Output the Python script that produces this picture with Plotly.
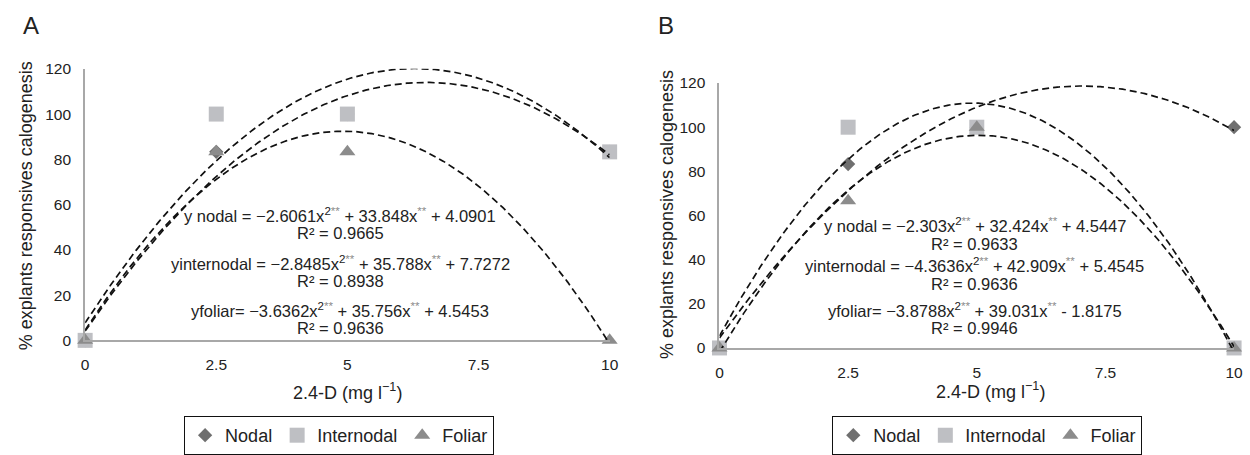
import numpy as np
import plotly.graph_objects as go

W, H = 1250, 455

# ---------------- data ----------------
x_vals = [0, 2.5, 5, 10]
a_nodal = [0, 83.3, 100, 83.3]
a_internodal = [0, 100, 100, 83.3]
a_foliar = [0, 83.3, 83.3, 0]
b_nodal = [0, 83.3, 100, 100]
b_internodal = [0, 100, 100, 0]
b_foliar = [0, 66.7, 100, 0]

# quadratic trend-line coefficients (a, b, c) as printed on the chart
a_nodal_fit = [-2.6061, 33.848, 4.0901]
a_internodal_fit = [-2.8485, 35.788, 7.7272]
a_foliar_fit = [-3.6362, 35.756, 4.5453]
b_nodal_fit = [-2.303, 32.424, 4.5447]
b_internodal_fit = [-4.3636, 42.909, 5.4545]
b_foliar_fit = [-3.8788, 39.031, -1.8175]

a_r2 = ["0.9665", "0.8938", "0.9636"]
b_r2 = ["0.9633", "0.9636", "0.9946"]

x_ticks = [0, 2.5, 5, 7.5, 10]
x_tick_text = ["0", "2.5", "5", "7.5", "10"]
y_ticks = [0, 20, 40, 60, 80, 100, 120]

series_names = ["Nodal", "Internodal", "Foliar"]
# --------------------------------------

FONT = "Arial, Liberation Sans, Helvetica, sans-serif"
colors = ["#6f6f6f", "#bebfc3", "#8c8c8c"]
symbols = ["diamond", "square", "triangle-up"]
sizes = [11, 15, 14]


def px_x(p):
    return p / W


def px_y(p):
    return (H - p) / H


fig = go.Figure()

panels = [
    ("x", "y", "legend", [a_nodal, a_internodal, a_foliar],
     [a_nodal_fit, a_internodal_fit, a_foliar_fit]),
    ("x2", "y2", "legend2", [b_nodal, b_internodal, b_foliar],
     [b_nodal_fit, b_internodal_fit, b_foliar_fit]),
]

xs = np.linspace(0, 10, 301)
for xa, ya, lg, series, fits in panels:
    for i, (name, vals) in enumerate(zip(series_names, series)):
        fig.add_trace(go.Scatter(
            x=x_vals, y=vals, mode="markers", name=name,
            xaxis=xa, yaxis=ya, legend=lg, cliponaxis=False,
            marker=dict(symbol=symbols[i], size=sizes[i], color=colors[i],
                        line=dict(width=0)),
        ))
    for coef in fits:
        ys = coef[0] * xs ** 2 + coef[1] * xs + coef[2]
        fig.add_trace(go.Scatter(
            x=xs, y=ys, mode="lines", showlegend=False, hoverinfo="skip",
            xaxis=xa, yaxis=ya,
            line=dict(color="#111111", width=1.7, dash="7px,4px"),
        ))

axis_common = dict(
    showgrid=False, zeroline=False, showline=True, linecolor="#a8a8a8",
    linewidth=2, ticks="outside", ticklen=9, tickcolor="rgba(0,0,0,0)",
    tickfont=dict(family=FONT, size=15.5, color="#222222"), fixedrange=True,
)

legend_common = dict(
    orientation="h", xanchor="left", yanchor="top",
    bordercolor="#111111", borderwidth=1,
    font=dict(family=FONT, size=18, color="#222222"),
    itemwidth=30, tracegroupgap=0,
)

fig.update_layout(
    width=W, height=H,
    margin=dict(l=0, r=0, t=0, b=0),
    paper_bgcolor="white", plot_bgcolor="white",
    font=dict(family=FONT, color="#222222"),
    xaxis=dict(domain=[px_x(82), px_x(612)], range=[0, 10], anchor="y",
               tickvals=x_ticks, ticktext=x_tick_text, **axis_common),
    yaxis=dict(domain=[px_y(349), px_y(63)], range=[0, 120], anchor="x",
               tickvals=y_ticks, **axis_common),
    xaxis2=dict(domain=[px_x(723), px_x(1243)], range=[0, 10], anchor="y2",
                tickvals=x_ticks, ticktext=x_tick_text, **axis_common),
    yaxis2=dict(domain=[px_y(357), px_y(78)], range=[0, 120], anchor="x2",
                tickvals=y_ticks, **axis_common),
    legend=dict(x=px_x(182), y=px_y(429), **legend_common),
    legend2=dict(x=px_x(837), y=px_y(429), **legend_common),
    showlegend=True,
)

STAR = "<span style='color:#8a8a8a'>**</span>"


def fmt(v):
    return f"{abs(v):g}"


def eq_text(label, coef):
    a, b, c = coef
    sign_a = "\u2212" if a < 0 else ""
    sign_c = "- " if c < 0 else "+ "
    return (f"{label} {sign_a}{fmt(a)}x<sup>2{STAR}</sup> + {fmt(b)}x<sup>{STAR}</sup> "
            f"{sign_c}{fmt(c)}")


annotations = []


def add_text(text, xp, yp, size, angle=0, anchor="center"):
    annotations.append(dict(
        text=text, x=px_x(xp), y=px_y(yp), xref="paper", yref="paper",
        xanchor=anchor, yanchor="middle", showarrow=False, textangle=angle,
        font=dict(family=FONT, size=size, color="#222222"),
    ))


# panel letters
add_text("A", 17, 17, 24, anchor="left")
add_text("B", 659, 17, 24, anchor="left")

# axis titles
ytitle = "% explants responsives calogenesis"
xtitle = "2.4-D (mg l<sup>\u22121</sup>)"
add_text(ytitle, 22, 207, 18, angle=-90)
add_text(ytitle, 670, 217, 18, angle=-90)
add_text(xtitle, 347, 403, 18)
add_text(xtitle, 997, 402, 18)

# equations
labels_eq = ["y nodal =", "yinternodal =", "yfoliar="]
a_fits = [a_nodal_fit, a_internodal_fit, a_foliar_fit]
b_fits = [b_nodal_fit, b_internodal_fit, b_foliar_fit]
a_eq_y = [(217, 236), (268, 287), (317, 336)]
b_eq_y = [(228, 248), (270, 290), (317, 336)]
for lab, coef, r2, (ye, yr) in zip(labels_eq, a_fits, a_r2, a_eq_y):
    add_text(eq_text(lab, coef), 340, ye, 16.5)
    add_text(f"R\u00b2 = {r2}", 340, yr, 16.5)
for lab, coef, r2, (ye, yr) in zip(labels_eq, b_fits, b_r2, b_eq_y):
    add_text(eq_text(lab, coef), 981, ye, 16.5)
    add_text(f"R\u00b2 = {r2}", 981, yr, 16.5)

fig.update_layout(annotations=annotations)

fig.write_html("out.html")
